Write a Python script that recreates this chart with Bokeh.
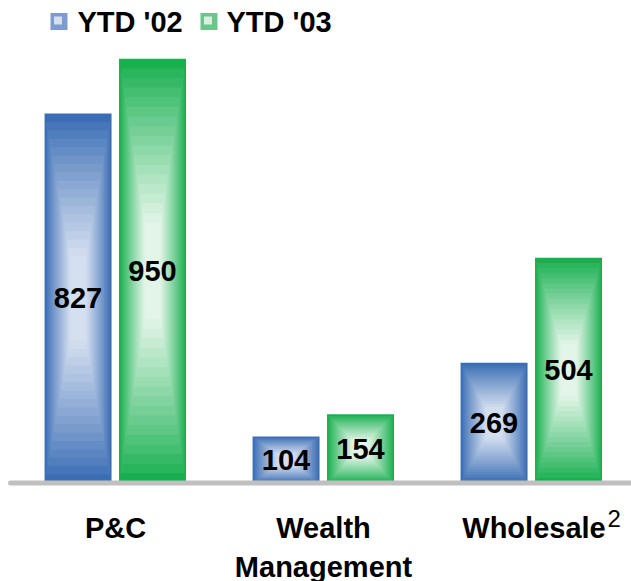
import numpy as np
from bokeh.plotting import figure
from bokeh.models import Range1d
from bokeh.core.properties import value
from bokeh.embed import file_html
from bokeh.resources import INLINE

# ---- data ----
categories = ["P&C", "Wealth Management", "Wholesale"]
series_names = ["YTD '02", "YTD '03"]
ytd02 = [827, 104, 269]
ytd03 = [950, 154, 504]

# ---- layout constants ----
W, H = 631, 581
PX_PER_GROUP = 208.0
PX_PER_UNIT = 0.4467
X0_PX = 115.0     # px (within figure) of group 0 centre
Y0_PX = 482.5     # px from figure top of value zero

xs = -X0_PX / PX_PER_GROUP
xe = xs + W / PX_PER_GROUP
ys = -(H - Y0_PX) / PX_PER_UNIT
ye = ys + H / PX_PER_UNIT


def sx(X):
    return xs + X / PX_PER_GROUP


def sy(Y):
    return ye - Y / PX_PER_UNIT


FONT = value("Liberation Sans")

p = figure(width=W, height=H, x_range=Range1d(xs, xe), y_range=Range1d(ys, ye),
           output_backend="svg", toolbar_location=None, min_border=0,
           x_axis_location=None, y_axis_location=None)
p.grid.visible = False
p.outline_line_color = None
p.background_fill_color = "white"
p.border_fill_color = "white"

edge_cols = [(58, 109, 180), (24, 175, 79)]
center_cols = [(212, 223, 240), (226, 245, 232)]
offsets = [-0.180, 0.178]
bar_w = 0.322
series = [ytd02, ytd03]

N = 22
L, R, B, T, C = [], [], [], [], []
for s, vals in enumerate(series):
    e = np.array(edge_cols[s], float)
    c = np.array(center_cols[s], float)
    for i, v in enumerate(vals):
        cx = i + offsets[s]
        cy = v / 2.0
        hw = bar_w / 2.0
        hh = v / 2.0
        for k in range(N):
            t = k / N
            f = min(1.0, t / 0.75) ** 0.9
            col = e + (c - e) * f
            L.append(cx - hw * (1 - t))
            R.append(cx + hw * (1 - t))
            B.append(cy - hh * (1 - t))
            T.append(cy + hh * (1 - t))
            C.append("#%02x%02x%02x" % tuple(int(round(z)) for z in col))

p.quad(left=L, right=R, bottom=B, top=T, fill_color=C, line_color=None)

# baseline
p.segment(x0=[sx(10)], y0=[0], x1=[xe + 1], y1=[0], line_width=5,
          line_color="#c0c0c0", line_cap="round")

# value labels
for s, vals in enumerate(series):
    p.text(x=[i + offsets[s] for i in range(len(vals))],
           y=[v / 2.0 for v in vals], text=[str(v) for v in vals],
           text_align="center", text_baseline="middle",
           text_font=FONT, text_font_style="bold", text_font_size="29px",
           text_color="black")

# category labels
p.text(x=[0, 1], y=[sy(527)] * 2, text=["P&C", "Wealth"],
       text_align="center", text_baseline="middle", text_font=FONT,
       text_font_style="bold", text_font_size="29px", text_color="black")
p.text(x=[1], y=[sy(566)], text=["Management"],
       text_align="center", text_baseline="middle", text_font=FONT,
       text_font_style="bold", text_font_size="29px", text_color="black")
p.text(x=[2 + 2.5 / PX_PER_GROUP], y=[sy(527)], text=["Wholesale"],
       text_align="center", text_baseline="middle", text_font=FONT,
       text_font_style="bold", text_font_size="29px", text_color="black")
p.text(x=[sx(607)], y=[sy(518)], text=["2"],
       text_align="left", text_baseline="middle", text_font=FONT,
       text_font_size="24px", text_color="black")

# legend
leg_outer = ["#7d9bd0", "#6cc58a"]
leg_inner = ["#d5dff0", "#d8f0de"]
leg_sq_x = [58.5, 208.5]
leg_tx_x = [77, 226]
for s in range(2):
    p.scatter(x=[sx(leg_sq_x[s])], y=[sy(21)], marker="square", size=17,
              fill_color=leg_outer[s], line_color=None)
    p.scatter(x=[sx(leg_sq_x[s] - 1)], y=[sy(20)], marker="square", size=8,
              fill_color=leg_inner[s], line_color=None)
    p.text(x=[sx(leg_tx_x[s])], y=[sy(21)], text=[series_names[s]],
           text_align="left", text_baseline="middle", text_font=FONT,
           text_font_style="bold", text_font_size="29px", text_color="black")

open("out.html", "w").write(file_html(p, INLINE))
